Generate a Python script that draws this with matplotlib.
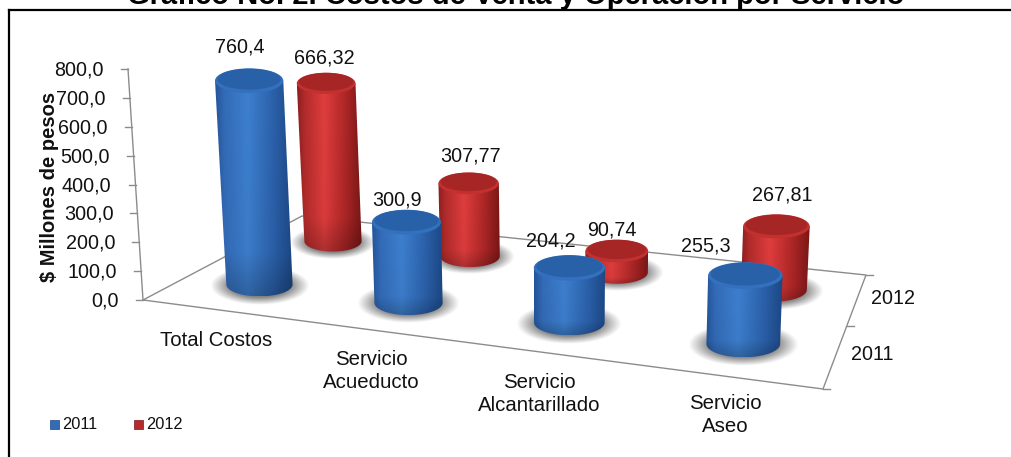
import numpy as np
import matplotlib
matplotlib.use('Agg')
import matplotlib.pyplot as plt
from matplotlib.patches import Ellipse, PathPatch, Rectangle
from matplotlib.path import Path

plt.rcParams['font.family'] = ['Liberation Sans', 'DejaVu Sans']

categories = ['Total Costos', 'Servicio\nAcueducto', 'Servicio\nAlcantarillado', 'Servicio\nAseo']
years = ['2011', '2012']
values_2011 = [760.4, 300.9, 204.2, 255.3]
values_2012 = [666.32, 307.77, 90.74, 267.81]
labels_2011 = ['760,4', '300,9', '204,2', '255,3']
labels_2012 = ['666,32', '307,77', '90,74', '267,81']
y_ticks = [0, 100, 200, 300, 400, 500, 600, 700, 800]
y_tick_labels = ['0,0', '100,0', '200,0', '300,0', '400,0', '500,0', '600,0', '700,0', '800,0']

# floor corners in pixels, front left / front right / back right / back left
floor = np.array([[143, 300], [823, 389], [866, 275], [302, 216]], dtype=float)
axis_top = 800
VANISH_X = 563


def square_to_floor():
    # homography of the unit square on to the floor
    a = []
    for (u, v), (x, y) in zip([(0, 0), (1, 0), (1, 1), (0, 1)], floor):
        a.append([u, v, 1, 0, 0, 0, -u * x, -v * x, -x])
        a.append([0, 0, 0, u, v, 1, -u * y, -v * y, -y])
    a = np.array(a)
    return np.linalg.svd(a)[2][-1].reshape(3, 3)


H = square_to_floor()


def on_floor(u, v):
    p = H @ np.array([u, v, 1.0])
    return p[0] / p[2], p[1] / p[2]


def project(u, v, value):
    x, y = on_floor(u, v)
    per_unit = .2835 - .062 * v
    return x + (x - VANISH_X) * 4.46e-5 * value, y - per_unit * value


def radius(u, v):
    # floor perspective alone makes the left cylinders too thin
    width = on_floor(u + .125, v)[0] - on_floor(u - .125, v)[0]
    return .2 * width + (1 - u) * (6.3 - 5.2 * v)


def body_colors(stops, h=64):
    w = 200
    t = np.linspace(0, 1, w)
    row = np.stack([np.interp(t, [0, .12, .42, .75, 1], [s[c] for s in stops]) for c in range(3)], axis=1)
    shade = np.interp(np.linspace(0, 1, h), [0, .8, 1], [1, .97, .78])
    return row[None, :, :] * shade[:, None, None]


BLUE = [(.14, .33, .60), (.20, .42, .72), (.24, .50, .81), (.17, .38, .67), (.11, .28, .52)]
RED = [(.55, .12, .12), (.70, .17, .17), (.88, .24, .24), (.68, .15, .15), (.48, .09, .09)]
BLUE_TOP = [(.16, .38, .66), (.20, .44, .74)]
RED_TOP = [(.65, .15, .15), (.76, .19, .19)]

fig = plt.figure(figsize=(10.11, 4.57), dpi=100, facecolor='white')
ax = fig.add_axes([0, 0, 1, 1])
ax.set_xlim(0, 1011)
ax.set_ylim(457, 0)
ax.axis('off')

# frame, only the left and top edges are in the picture
ax.plot([8.5, 8.5], [457, 10], color='black', lw=1.6)
ax.plot([8.5, 1011], [10, 10], color='black', lw=1.6)

ax.text(516, 4, 'Gráfico No. 2. Costos de Venta y Operación por Servicio', ha='center', va='baseline',
        fontsize=21, fontweight='bold', color='black')

# walls and floor lines
GREY = '#8c8c8c'
fl, fr, br, bl = floor
top_left = (128, 69)
ax.plot([top_left[0], fl[0]], [top_left[1], fl[1]], color=GREY, lw=1)
ax.plot([fl[0], fr[0], br[0], bl[0], fl[0]], [fl[1], fr[1], br[1], bl[1], fl[1]], color=GREY, lw=1)
for tick, text in zip(y_ticks, y_tick_labels):
    f = tick / axis_top
    x = fl[0] + (top_left[0] - fl[0]) * f
    y = fl[1] + (top_left[1] - fl[1]) * f
    ax.plot([x - 7, x], [y, y], color=GREY, lw=1)
    ax.text(x - 24, y + 1, text, ha='right', va='center', fontsize=14.2, color='#111111')

for v in [0, .5, 1]:
    x, y = on_floor(1, v)
    ax.plot([x, x + 7], [y, y], color=GREY, lw=1)

ax.text(50, 187, '$ Millones de pesos', rotation=90, ha='center', va='center', fontsize=14.5,
        fontweight='bold', color='#111111')


def draw_shadow(x, y, rx, ry):
    n = 80
    gx, gy = np.meshgrid(np.linspace(-1, 1, n), np.linspace(-1, 1, n))
    d = np.hypot(gx, gy)
    img = np.zeros((n, n, 4))
    img[..., :3] = .25
    img[..., 3] = np.clip((1 - d) / .4, 0, 1) * .65
    ax.imshow(img, extent=(x - rx, x + rx, y + ry, y - ry), aspect='auto', zorder=2, interpolation='bilinear')


def draw_cylinder(u, v, value, body, top, zorder):
    bx, by = project(u, v, 0)
    tx, ty = project(u, v, value)
    rb = radius(u, v)
    rt = rb * (1 + value * 4e-5)
    k = .36
    draw_shadow(bx, by + 1, rb * 1.5, rb * k * 1.6)

    a = np.linspace(np.pi, 0, 40)
    verts = [(tx - rt, ty), (bx - rb, by)]
    verts += [(bx + rb * np.cos(t), by + rb * k * np.sin(t)) for t in a]
    verts += [(tx + rt, ty), (tx - rt, ty)]
    patch = PathPatch(Path(verts), fc='none', ec='none', zorder=zorder)
    ax.add_patch(patch)
    lo = min(bx - rb, tx - rt)
    hi = max(bx + rb, tx + rt)
    im = ax.imshow(body_colors(body), extent=(lo, hi, by + rb * k, ty), aspect='auto', zorder=zorder,
                   interpolation='bilinear')
    im.set_clip_path(patch)

    # lip and top face
    ax.add_patch(Ellipse((tx, ty), 2 * rt, 2 * rt * k, fc=top[1], ec='none', zorder=zorder + .1))
    ax.add_patch(Ellipse((tx, ty - 1.5), 2 * rt * .93, 2 * rt * k * .85, fc=top[0], ec='none', zorder=zorder + .2))
    ax.set_xlim(0, 1011)
    ax.set_ylim(457, 0)


def col_u(i):
    return (i + .5) / len(categories)


# back row first so that the front row overlaps it
for i, val in enumerate(values_2012):
    draw_cylinder(col_u(i), .75, val, RED, RED_TOP, 3 + i * .5)
for i, val in enumerate(values_2011):
    draw_cylinder(col_u(i), .25, val, BLUE, BLUE_TOP, 6 + i * .5)

# data labels sit above the tops, with the odd offsets Excel gave them
offsets_2011 = [(-9, -34), (-10, -22), (-19, -27), (-40, -30)]
offsets_2012 = [(-2, -25), (2, -27), (-5, -21), (6, -31)]
for i in range(4):
    x, y = project(col_u(i), .25, values_2011[i])
    ax.text(x + offsets_2011[i][0], y + offsets_2011[i][1], labels_2011[i], ha='center', va='center',
            fontsize=14.2, color='#111111', zorder=20)
    x, y = project(col_u(i), .75, values_2012[i])
    ax.text(x + offsets_2012[i][0], y + offsets_2012[i][1], labels_2012[i], ha='center', va='center',
            fontsize=14.2, color='#111111', zorder=20)

# category and depth labels
cat_pos = [(216, 340), (371, 371), (539, 394), (725, 415)]
for (x, y), name in zip(cat_pos, categories):
    ax.text(x, y, name, ha='center', va='center', fontsize=14.7, color='#111111', linespacing=1.32)
ax.text(893, 298, years[1], ha='center', va='center', fontsize=14.2, color='#111111')
ax.text(872, 354, years[0], ha='center', va='center', fontsize=14.2, color='#111111')

# legend
for x, name, c in [(50, years[0], BLUE), (134, years[1], RED)]:
    ax.add_patch(Rectangle((x, 420), 9, 9, fc=c[1], ec=c[4], lw=.5))
    ax.text(x + 12, 424.5, name, ha='left', va='center', fontsize=11.8, color='#111111')

fig.savefig('out.png', dpi=100)
